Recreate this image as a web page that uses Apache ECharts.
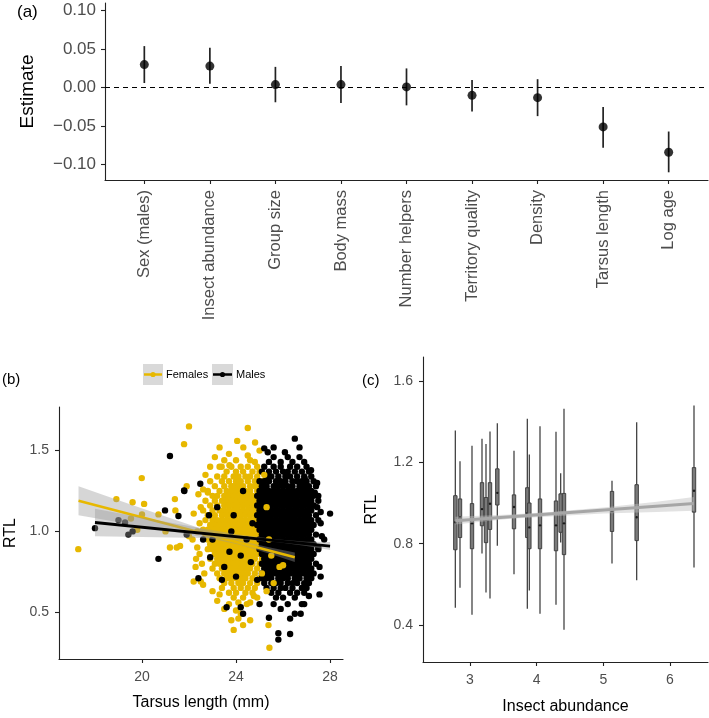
<!DOCTYPE html>
<html><head><meta charset="utf-8">
<script src="https://cdn.jsdelivr.net/npm/echarts@6/dist/echarts.min.js"></script>
<style>html,body{margin:0;padding:0;background:#fff}#c{width:709px;height:718px}</style>
</head><body><div id="c"></div><script>
// ---------- Panel (a) ----------
const cats = ['Sex (males)','Insect abundance','Group size','Body mass','Number helpers','Territory quality','Density','Tarsus length','Log age'];
const est = [0.030, 0.028, 0.004, 0.004, 0.001, -0.010, -0.013, -0.051, -0.084];
const ciLo = [0.006, 0.005, -0.019, -0.020, -0.023, -0.031, -0.037, -0.078, -0.110];
const ciHi = [0.054, 0.052, 0.027, 0.028, 0.025, 0.010, 0.011, -0.025, -0.057];
const aTicks = [-0.10, -0.05, 0, 0.05, 0.10];

// ---------- Panel (b) ----------
const bXTicks = [20, 24, 28];
const bYTicks = [0.5, 1.0, 1.5];
const femaleOut = [[17.29,0.89],[18.91,1.20],[19.60,1.18],[20.09,1.17],[19.53,1.08],[19.99,1.33],[20.0,1.105],[19.8,1.01],[21.0,1.0],[20.7,1.105],[21.19,0.90],[21.48,0.90],[21.62,0.91],[21.40,1.20],[21.42,1.13],[22.00,1.65],[24.50,1.64],[21.79,1.54],[24.81,1.55],[24.31,1.52],[23.70,1.48],[24.50,1.47],[23.39,1.40],[23.72,1.41],[22.30,0.83],[22.28,0.78],[22.20,0.69],[22.50,0.69],[22.60,0.67],[23.00,0.63],[23.30,0.61],[23.50,0.52],[23.90,0.39],[24.10,0.46],[24.20,0.49],[24.46,0.55],[24.76,0.60],[25.42,0.28],[25.38,0.42],[23.20,0.57],[23.70,0.55],[24.00,0.51],[24.60,0.45],[22.40,1.23],[22.60,1.26],[22.80,1.24],[22.20,1.11],[22.15,0.95],[22.00,0.97],[22.45,1.05],[22.35,0.90],[22.55,0.80],[21.90,1.28],[22.70,1.35],[23.10,1.46],[24.80,1.43],[25.00,1.50],[22.45,0.86],[22.5,1.15],[22.35,1.0],[22.65,0.74],[22.9,1.40],[23.3,1.52],[24.05,1.56],[24.3,0.42],[23.8,0.45]];
const femaleRows = [
[1.44,23.5,24.0,24.6],
[1.40,23.3,23.8,24.2,24.5,24.9],
[1.37,23.6,24.0,24.3,24.7,25.0],
[1.34,23.2,23.5,23.9,24.1,24.4,24.6,24.9],
[1.31,22.9,23.4,23.7,24.0,24.2,24.5,24.8,25.1],
[1.28,23.1,23.5,23.8,23.9,24.1,24.3,24.6,24.8,25.0],
[1.25,22.8,23.3,23.6,23.8,24.0,24.2,24.4,24.6,24.9,25.2],
[1.22,23.0,23.2,23.5,23.7,23.9,24.1,24.3,24.5,24.7,25.0],
[1.19,22.7,23.1,23.4,23.6,23.8,24.0,24.2,24.4,24.6,24.8,25.1],
[1.16,22.9,23.2,23.5,23.7,23.9,24.1,24.3,24.5,24.7,25.0],
[1.13,22.6,23.0,23.3,23.5,23.7,23.9,24.1,24.3,24.5,24.7,24.9,25.2],
[1.10,22.8,23.1,23.4,23.6,23.8,24.0,24.2,24.4,24.6,24.8,25.0],
[1.07,22.7,23.0,23.2,23.4,23.6,23.8,24.0,24.2,24.4,24.6,24.8,25.1],
[1.04,22.9,23.1,23.3,23.5,23.7,23.9,24.1,24.3,24.5,24.7,24.9,25.2],
[1.01,22.6,22.8,23.0,23.2,23.4,23.6,23.8,24.0,24.2,24.4,24.6,24.8,25.0],
[0.98,22.7,22.9,23.1,23.3,23.5,23.7,23.9,24.1,24.3,24.5,24.7,24.9,25.1],
[0.95,22.8,23.0,23.2,23.4,23.6,23.8,24.0,24.2,24.4,24.6,24.8,25.0],
[0.92,22.9,23.1,23.3,23.5,23.7,23.9,24.1,24.3,24.5,24.7,24.9,25.2],
[0.89,22.8,23.0,23.2,23.4,23.6,23.8,24.0,24.2,24.4,24.6,24.8,25.0],
[0.86,23.1,23.3,23.5,23.7,23.9,24.1,24.3,24.5,24.7,24.9],
[0.83,22.9,23.2,23.4,23.6,23.8,24.0,24.2,24.4,24.6,24.8,25.1],
[0.80,23.1,23.3,23.5,23.7,23.9,24.1,24.3,24.5,24.7,25.0],
[0.77,23.0,23.4,23.6,23.8,24.0,24.2,24.4,24.6,24.9],
[0.74,23.2,23.5,23.7,23.9,24.1,24.3,24.5,24.8],
[0.71,23.3,23.6,23.8,24.0,24.2,24.4,24.7,25.0],
[0.68,23.5,23.8,24.1,24.3,24.6,24.9],
[0.65,23.4,23.9,24.2,24.5,24.8],
[0.62,23.7,24.0,24.4,24.7],
[0.59,23.9,24.3,24.9],
[0.56,24.1,24.6]
];
const maleOut = [[18.0,1.02],[19.0,1.07],[19.28,1.055],[19.42,0.98],[19.6,1.0],[20.7,0.83],[20.98,1.13],[21.55,1.095],[21.8,1.25],[21.9,0.98],[22.48,1.295],[22.4,0.71],[21.19,1.467],[21.79,1.254],[23.6,0.53],[24.3,0.49],[24.2,0.53],[25.4,0.465],[25.8,0.33],[25.8,0.37],[26.3,0.365],[26.3,0.46],[26.5,0.49],[26.75,0.49],[27.55,0.61],[28.0,1.11],[27.6,1.12],[27.5,1.22],[27.45,1.15],[27.65,0.97],[27.75,0.95],[27.6,0.72],[27.55,0.78],[26.5,1.574],[25.2,1.514],[25.35,1.49],[26.08,1.49],[27.19,1.378],[27.35,1.24],[26.92,1.33],[25.0,0.55],[25.9,0.52],[26.9,0.55],[27.1,0.60],[27.5,0.90],[27.6,1.05],[27.45,1.30],[25.6,1.52],[26.7,1.52],[22.6,0.95],[23.0,0.95],[22.85,1.10],[23.2,1.15],[23.9,1.10],[24.3,1.25],[23.72,0.874],[24.2,0.85],[24.63,0.81],[24.0,0.72],[23.5,0.78],[24.45,0.95],[23.8,1.00],[24.9,0.70],[24.7,1.05],[23.4,0.70],[22.9,0.84]];
const maleRows = [
[1.46,25.6,26.2,26.7],
[1.43,25.4,25.9,26.4,26.9],
[1.40,25.2,25.6,25.9,26.3,26.6,27.0],
[1.37,25.1,25.4,25.7,26.0,26.2,26.5,26.8,27.1],
[1.34,25.3,25.5,25.8,26.1,26.3,26.6,26.9,27.2],
[1.31,25.0,25.2,25.4,25.7,25.9,26.1,26.4,26.6,26.8,27.0,27.3],
[1.28,25.1,25.3,25.6,25.8,26.0,26.2,26.4,26.7,26.9,27.1,27.4],
[1.25,25.0,25.2,25.4,25.6,25.8,26.0,26.2,26.4,26.6,26.8,27.0,27.2],
[1.22,24.9,25.1,25.3,25.5,25.7,25.9,26.1,26.3,26.5,26.7,26.9,27.1,27.3],
[1.19,25.0,25.2,25.4,25.6,25.8,26.0,26.2,26.4,26.6,26.8,27.0,27.2,27.5],
[1.16,24.9,25.1,25.3,25.5,25.7,25.9,26.1,26.3,26.5,26.7,26.9,27.1,27.3],
[1.13,25.0,25.2,25.4,25.6,25.8,26.0,26.2,26.4,26.6,26.8,27.0,27.2],
[1.10,24.9,25.1,25.3,25.5,25.7,25.9,26.1,26.3,26.5,26.7,26.9,27.1,27.4],
[1.07,25.0,25.2,25.4,25.6,25.8,26.0,26.2,26.4,26.6,26.8,27.0,27.2,27.5],
[1.04,24.9,25.1,25.3,25.5,25.7,25.9,26.1,26.3,26.5,26.7,26.9,27.1,27.3],
[1.01,25.0,25.2,25.4,25.6,25.8,26.0,26.2,26.4,26.6,26.8,27.0,27.2],
[0.98,25.1,25.3,25.5,25.7,25.9,26.1,26.3,26.5,26.7,26.9,27.1,27.4],
[0.95,25.0,25.2,25.4,25.6,25.8,26.0,26.2,26.4,26.6,26.8,27.0,27.2],
[0.92,25.1,25.3,25.5,25.7,25.9,26.1,26.3,26.5,26.7,26.9,27.1,27.3],
[0.89,25.0,25.2,25.4,25.6,25.8,26.0,26.2,26.4,26.6,26.8,27.0,27.2,27.5],
[0.86,25.1,25.3,25.5,25.7,25.9,26.1,26.3,26.5,26.7,26.9,27.1,27.3],
[0.83,25.2,25.4,25.6,25.8,26.0,26.2,26.4,26.6,26.8,27.0,27.2],
[0.80,25.1,25.3,25.5,25.7,25.9,26.1,26.3,26.5,26.7,26.9,27.1,27.4],
[0.77,25.2,25.4,25.6,25.8,26.0,26.2,26.4,26.6,26.8,27.0,27.2],
[0.74,25.1,25.3,25.5,25.7,25.9,26.1,26.3,26.5,26.7,26.9,27.1,27.3],
[0.71,25.1,25.3,25.5,25.8,26.0,26.2,26.5,26.7,27.0,27.2],
[0.68,25.2,25.5,25.7,25.9,26.2,26.4,26.6,26.9,27.1],
[0.65,25.3,25.6,25.9,26.1,26.4,26.8,27.0],
[0.62,25.5,25.8,26.3,26.6,26.9],
[0.59,25.7,26.0,26.5],
[0.55,25.6,26.2,26.8]
];
const femaleOver = [[25.6,0.68],[25.85,0.78],[26.0,0.79],[25.3,0.63],[25.5,0.85],[25.3,1.15],[25.4,0.95],[25.2,1.35],[25.1,0.74]];
// fitted lines and confidence bands (b)
const femFitX = [17.3, 26.5], femFitY = [1.19, 0.84];
const femBandX = [17.3, 19, 21, 23, 24.2, 25.5, 26.5];
const femBandLo = [1.10, 1.057, 1.006, 0.953, 0.915, 0.858, 0.81];
const femBandHi = [1.28, 1.193, 1.092, 0.993, 0.941, 0.898, 0.87];
const malFitX = [18.0, 28.0], malFitY = [1.055, 0.909];
const malBandX = [18, 20, 22, 24, 25.8, 27, 28];
const malBandLo = [0.97, 0.966, 0.961, 0.952, 0.933, 0.910, 0.884];
const malBandHi = [1.14, 1.086, 1.033, 0.982, 0.949, 0.936, 0.934];

// ---------- Panel (c) ----------
const cXTicks = [3, 4, 5, 6];
const cYTicks = [0.4, 0.8, 1.2, 1.6];
// [insect abundance, min, Q1, median, Q3, max]
const boxes = [
[2.78, 0.485, 0.770, 0.905, 1.036, 1.356],
[2.85, 0.583, 0.830, 0.930, 1.020, 1.205],
[3.03, 0.450, 0.775, 0.900, 0.997, 1.282],
[3.18, 0.752, 0.888, 0.970, 1.100, 1.316],
[3.24, 0.560, 0.805, 0.920, 1.027, 1.290],
[3.30, 0.530, 0.870, 0.996, 1.100, 1.352],
[3.41, 0.790, 0.990, 1.050, 1.168, 1.392],
[3.66, 0.650, 0.873, 0.980, 1.040, 1.257],
[3.86, 0.480, 0.830, 0.950, 1.075, 1.414],
[3.89, 0.570, 0.775, 0.880, 1.000, 1.238],
[4.05, 0.455, 0.775, 0.890, 1.020, 1.377],
[4.29, 0.500, 0.765, 0.890, 1.010, 1.350],
[4.36, 0.806, 0.856, 0.950, 1.045, 1.146],
[4.41, 0.377, 0.746, 0.900, 1.047, 1.464],
[5.13, 0.703, 0.860, 0.960, 1.057, 1.110],
[5.50, 0.620, 0.815, 0.930, 1.090, 1.397],
[6.36, 0.683, 0.955, 1.060, 1.174, 1.480]
];
const cFitX = [2.78, 6.36], cFitY = [0.913, 0.997];
const cBandX = [2.78, 3.6, 4.2, 5.0, 5.8, 6.36];
const cBandLo = [0.894, 0.922, 0.934, 0.948, 0.956, 0.962];
const cBandHi = [0.932, 0.944, 0.956, 0.978, 1.006, 1.030];

// ---------- build ----------
const FONT = '"Liberation Sans", Arial, Helvetica, sans-serif';
const YEL = '#E7B800';
const rowsToPts = rows => { const out = []; rows.forEach(r => { for (let i = 1; i < r.length; i++) out.push([r[i], r[0]]); }); return out; };
const femalePts = femaleOut.concat(rowsToPts(femaleRows));
const malePts = maleOut.concat(rowsToPts(maleRows));

const lineSt = {color: '#222', width: 1.1};
function vAxis(grid, min, max, ticks, fmt, o) {
  return Object.assign({
    gridIndex: grid, type: 'value', min, max,
    axisLine: {show: true, onZero: false, lineStyle: lineSt},
    axisTick: {show: true, length: 4, customValues: ticks, lineStyle: lineSt},
    axisLabel: {customValues: ticks, formatter: fmt, color: '#4d4d4d', fontFamily: FONT, fontSize: 14, margin: 8},
    splitLine: {show: false},
    nameLocation: 'middle',
    nameTextStyle: {color: '#000', fontFamily: FONT, fontSize: 16}
  }, o || {});
}
const fmtA = v => (v < -1e-9 ? '\u2212' : '') + Math.abs(v).toFixed(2);
const fmt1 = v => v.toFixed(1);

function band(xi, xs, lo, hi, fill, z) {
  return {
    type: 'custom', xAxisIndex: xi, yAxisIndex: xi, z, silent: true,
    data: xs.map((x, i) => [x, lo[i], hi[i]]),
    encode: {x: 0, y: [1, 2]},
    renderItem: (params, api) => {
      if (params.dataIndex !== 0) return {type: 'group', children: []};
      const pts = [];
      for (let i = 0; i < xs.length; i++) pts.push(api.coord([xs[i], hi[i]]));
      for (let i = xs.length - 1; i >= 0; i--) pts.push(api.coord([xs[i], lo[i]]));
      return {type: 'polygon', shape: {points: pts}, style: {fill}};
    }
  };
}
function fitLine(xi, xs, ys, color, width, z) {
  return {type: 'line', xAxisIndex: xi, yAxisIndex: xi, z, silent: true, symbol: 'none',
    data: xs.map((x, i) => [x, ys[i]]), lineStyle: {color, width}};
}

const chart = echarts.init(document.getElementById('c'), null, {renderer: 'canvas'});
chart.setOption({
  animation: false,
  backgroundColor: '#fff',
  grid: [
    {left: 105, top: 3, width: 603, height: 177},
    {left: 59, top: 407, width: 284, height: 252},
    {left: 423, top: 357, width: 285, height: 305}
  ],
  xAxis: [
    vAxis(0, 0.4, 9.6, [1,2,3,4,5,6,7,8,9], v => cats[Math.round(v) - 1], {
      axisLabel: {customValues: [1,2,3,4,5,6,7,8,9], formatter: v => cats[Math.round(v) - 1], rotate: 90, margin: 10, color: '#4d4d4d', fontFamily: FONT, fontSize: 16.5}
    }),
    vAxis(1, 16.47, 28.55, bXTicks, v => String(v), {name: 'Tarsus length (mm)', nameGap: 36, axisLabel: {customValues: bXTicks, formatter: v => String(v), color: '#4d4d4d', fontFamily: FONT, fontSize: 14, margin: 11}}),
    vAxis(2, 2.295, 6.57, cXTicks, v => String(v), {name: 'Insect abundance', nameGap: 37, axisLabel: {customValues: cXTicks, formatter: v => String(v), color: '#4d4d4d', fontFamily: FONT, fontSize: 14, margin: 11}})
  ],
  yAxis: [
    vAxis(0, -0.12, 0.11, aTicks, fmtA, {name: 'Estimate', nameGap: 68, nameTextStyle: {color: '#000', fontFamily: FONT, fontSize: 19},
      axisLabel: {customValues: aTicks, formatter: fmtA, color: '#4d4d4d', fontFamily: FONT, fontSize: 17, margin: 9}}),
    vAxis(1, 0.21, 1.77, bYTicks, fmt1, {name: 'RTL', nameGap: 40, axisLabel: {customValues: bYTicks, formatter: fmt1, color: '#4d4d4d', fontFamily: FONT, fontSize: 14, margin: 10}}),
    vAxis(2, 0.218, 1.718, cYTicks, fmt1, {name: 'RTL', nameGap: 43, axisLabel: {customValues: cYTicks, formatter: fmt1, color: '#4d4d4d', fontFamily: FONT, fontSize: 14, margin: 10}})
  ],
  graphic: [
    {type: 'text', x: 17, y: 12, style: {text: '(a)', fill: '#000', font: '17px ' + FONT, verticalAlign: 'middle'}},
    {type: 'text', x: 2, y: 380, style: {text: '(b)', fill: '#000', font: '15px ' + FONT, verticalAlign: 'middle'}},
    {type: 'text', x: 362, y: 381, style: {text: '(c)', fill: '#000', font: '15px ' + FONT, verticalAlign: 'middle'}},
    {type: 'rect', shape: {x: 143, y: 364, width: 20, height: 21}, style: {fill: '#d9d9d9'}},
    {type: 'line', shape: {x1: 144, y1: 374.5, x2: 162, y2: 374.5}, style: {stroke: YEL, lineWidth: 2.5}},
    {type: 'circle', shape: {cx: 153, cy: 374.5, r: 2.6}, style: {fill: YEL}},
    {type: 'text', x: 166, y: 375, style: {text: 'Females', fill: '#000', font: '11px ' + FONT, verticalAlign: 'middle'}},
    {type: 'rect', shape: {x: 212, y: 364, width: 21, height: 21}, style: {fill: '#d9d9d9'}},
    {type: 'line', shape: {x1: 213, y1: 374.5, x2: 232, y2: 374.5}, style: {stroke: '#000', lineWidth: 2.5}},
    {type: 'circle', shape: {cx: 222.5, cy: 374.5, r: 2.6}, style: {fill: '#000'}},
    {type: 'text', x: 236, y: 375, style: {text: 'Males', fill: '#000', font: '11px ' + FONT, verticalAlign: 'middle'}}
  ],
  series: [
    // (a)
    {type: 'custom', xAxisIndex: 0, yAxisIndex: 0, z: 2, silent: true,
      data: est.map((e, i) => [i + 1, ciLo[i], ciHi[i]]), encode: {x: 0, y: [1, 2]},
      renderItem: (params, api) => {
        const a = api.coord([api.value(0), api.value(1)]), b = api.coord([api.value(0), api.value(2)]);
        return {type: 'line', shape: {x1: a[0], y1: a[1], x2: b[0], y2: b[1]}, style: {stroke: '#222', lineWidth: 1.7}};
      },
      markLine: {silent: true, symbol: 'none', label: {show: false}, lineStyle: {color: '#000', type: [5, 4], width: 1.2}, data: [{yAxis: 0}]}
    },
    {type: 'scatter', xAxisIndex: 0, yAxisIndex: 0, z: 3, silent: true, symbolSize: 9,
      itemStyle: {color: '#000'}, data: est.map((e, i) => [i + 1, e])},
    // (b)
    {type: 'scatter', xAxisIndex: 1, yAxisIndex: 1, z: 2, silent: true, symbolSize: 6.4, itemStyle: {color: YEL, opacity: 1}, data: femalePts},
    {type: 'scatter', xAxisIndex: 1, yAxisIndex: 1, z: 3, silent: true, symbolSize: 6.4, itemStyle: {color: '#000', opacity: 1}, data: malePts},
    {type: 'scatter', xAxisIndex: 1, yAxisIndex: 1, z: 4, silent: true, symbolSize: 6.4, itemStyle: {color: YEL, opacity: 1}, data: femaleOver},
    band(1, femBandX, femBandLo, femBandHi, 'rgba(153,153,153,0.4)', 5),
    fitLine(1, femFitX, femFitY, YEL, 2.5, 6),
    band(1, malBandX, malBandLo, malBandHi, 'rgba(153,153,153,0.4)', 7),
    fitLine(1, malFitX, malFitY, '#000', 2.8, 8),
    // (c)
    {type: 'custom', xAxisIndex: 2, yAxisIndex: 2, z: 2, silent: true, data: boxes, encode: {x: 0, y: [1, 2, 3, 4, 5]},
      renderItem: (params, api) => {
        const x = api.value(0);
        const pMin = api.coord([x, api.value(1)]), pQ1 = api.coord([x, api.value(2)]), pMed = api.coord([x, api.value(3)]);
        const pQ3 = api.coord([x, api.value(4)]), pMax = api.coord([x, api.value(5)]);
        const w = 3.4;
        return {type: 'group', children: [
          {type: 'line', shape: {x1: pMin[0], y1: pMin[1], x2: pMax[0], y2: pMax[1]}, style: {stroke: '#444', lineWidth: 1.3}},
          {type: 'rect', shape: {x: pQ3[0] - w / 2, y: pQ3[1], width: w, height: pQ1[1] - pQ3[1]}, style: {fill: '#7a7a7a', stroke: '#404040', lineWidth: 1}},
          {type: 'circle', shape: {cx: pMed[0], cy: pMed[1], r: 1.2}, style: {fill: '#1a1a1a'}}
        ]};
      }
    },
    band(2, cBandX, cBandLo, cBandHi, 'rgba(190,190,190,0.45)', 3),
    fitLine(2, cFitX, cFitY, '#a6a6a6', 3, 4)
  ]
});
</script></body></html>
